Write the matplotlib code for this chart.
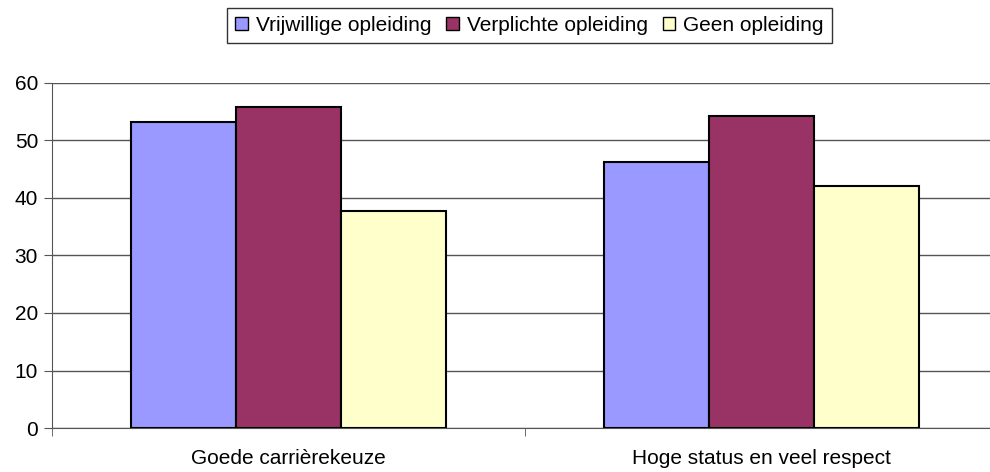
import numpy as np
import matplotlib.pyplot as plt
from matplotlib.patches import Patch

plt.rcParams['font.family'] = ['Liberation Sans', 'DejaVu Sans']

categories = ["Goede carrièrekeuze", "Hoge status en veel respect"]
series = ["Vrijwillige opleiding", "Verplichte opleiding", "Geen opleiding"]
vrijwillig = [53.2, 46.2]
verplicht = [55.9, 54.3]
geen = [37.8, 42.1]
colors = ["#9999ff", "#993366", "#ffffcc"]

fig = plt.figure(figsize=(9.9, 4.72), dpi=100)
ax = fig.add_axes([0.0525, 0.0932, 0.9556, 0.731])

x = np.arange(len(categories))
w = 1 / 4.5
for i, (vals, c) in enumerate(zip([vrijwillig, verplicht, geen], colors)):
    ax.bar(x + (i - 1) * w, vals, w, color=c, edgecolor="black", linewidth=1.5, zorder=3)

ax.set_xlim(-0.5, 1.5)
ax.set_ylim(0, 60)
ax.set_yticks(range(0, 61, 10))
ax.yaxis.grid(True, color="#555555", linewidth=1)
ax.set_xticks(x)
ax.set_xticklabels(categories, fontsize=15)
ax.tick_params(axis="x", length=0, pad=15)
ax.set_xticks([-0.5, 0.5, 1.5], minor=True)
ax.tick_params(axis="x", which="minor", length=6, color="#555555")
ax.tick_params(axis="y", labelsize=15, length=6, color="#555555", pad=4)

for s in ["top", "right"]:
    ax.spines[s].set_visible(False)
for s in ["left", "bottom"]:
    ax.spines[s].set_color("#555555")

handles = [Patch(facecolor=c, edgecolor="black", linewidth=1) for c in colors]
leg = fig.legend(handles, series, loc="upper center", bbox_to_anchor=(0.535, 0.983),
                 ncol=3, fontsize=15, frameon=True, fancybox=False, edgecolor="black",
                 handlelength=0.6, handleheight=0.6, handletextpad=0.4, columnspacing=0.7,
                 borderpad=0.38, borderaxespad=0)
leg.get_frame().set_linewidth(1)

plt.savefig("out.png", dpi=100)
